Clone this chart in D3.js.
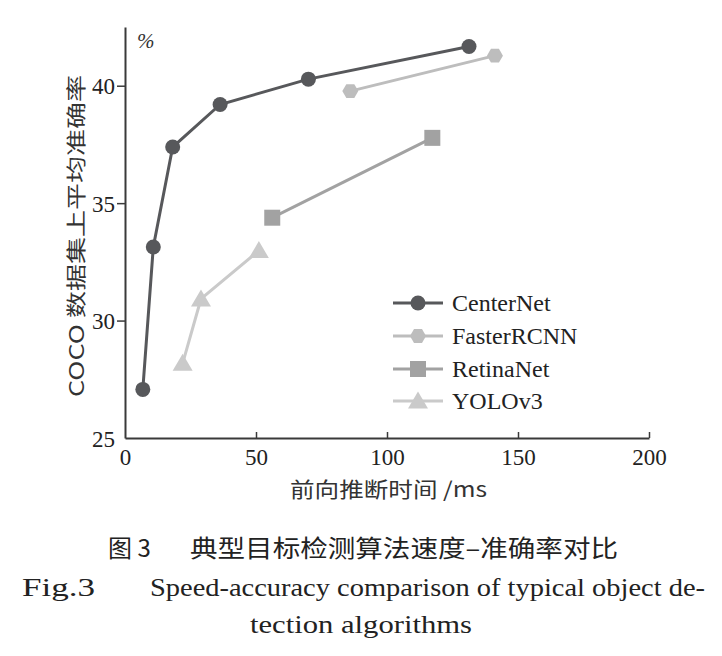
<!DOCTYPE html>
<html><head><meta charset="utf-8">
<script src="https://cdn.jsdelivr.net/npm/d3@7"></script>
<style>body{margin:0;background:#fff}svg{display:block}</style>
</head><body>
<svg id="c" width="722" height="656"></svg>
<script>
const seriesNames = ["CenterNet", "FasterRCNN", "RetinaNet", "YOLOv3"];
const centerNetX = [6.8, 10.8, 18.2, 36.3, 70.0, 131.3];
const centerNetY = [27.07, 33.13, 37.39, 39.2, 40.28, 41.67];
const fasterRcnnX = [86.0, 141.2];
const fasterRcnnY = [39.77, 41.28];
const retinaNetX = [56.2, 117.3];
const retinaNetY = [34.38, 37.78];
const yoloX = [22.0, 29.0, 51.1];
const yoloY = [28.18, 30.92, 32.98];
const xTicks = [0, 50, 100, 150, 200];
const yTicks = [25, 30, 35, 40];

const colors = {CenterNet:"#57585b", FasterRCNN:"#bdbdbd", RetinaNet:"#a2a2a2", YOLOv3:"#cacaca"};
const symbols = {CenterNet:"circle", FasterRCNN:"hexagon", RetinaNet:"square", YOLOv3:"triangle"};
const series = [
  {name:"CenterNet", xs:centerNetX, ys:centerNetY},
  {name:"FasterRCNN", xs:fasterRcnnX, ys:fasterRcnnY},
  {name:"RetinaNet", xs:retinaNetX, ys:retinaNetY},
  {name:"YOLOv3", xs:yoloX, ys:yoloY}
];

const svg = d3.select("#c");
const x = d3.scaleLinear().domain([0,200]).range([125,649]);
const y = d3.scaleLinear().domain([25,42.5]).range([438,27]);
const serif = "Liberation Serif, DejaVu Serif, serif";
const cjk = "Noto Sans CJK SC, Noto Sans, sans-serif";
const axisColor = "#3a3a3a";

function symbolPath(type){
  if(type==="circle") return d3.symbol(d3.symbolCircle, Math.PI*7.5*7.5)();
  if(type==="square") return d3.symbol(d3.symbolSquare, 16*16)();
  if(type==="triangle") return "M0,-9.5L10,7.5L-10,7.5Z";
  const r = 8; const pts=[];
  for(let i=0;i<6;i++){const a=Math.PI/3*i; pts.push([r*Math.cos(a), r*Math.sin(a)]);}
  return "M"+pts.map(p=>p.join(",")).join("L")+"Z";
}

// axes
const gx = svg.append("g").attr("transform","translate(0,438)")
  .call(d3.axisBottom(x).tickValues(xTicks).tickSize(-6).tickSizeOuter(0).tickFormat(d3.format("d")));
gx.select(".domain").attr("stroke",axisColor).attr("stroke-width",2);
gx.selectAll(".tick line").attr("stroke",axisColor).attr("stroke-width",1.5);
gx.selectAll(".tick text").attr("y",11).attr("font-family",serif).attr("font-size",23).attr("fill","#222");
gx.selectAll(".tick").filter(d=>d===0).select("line").remove();

const gy = svg.append("g").attr("transform","translate(125,0)")
  .call(d3.axisLeft(y).tickValues(yTicks).tickSize(8).tickSizeOuter(0).tickFormat(d3.format("d")));
gy.select(".domain").attr("stroke",axisColor).attr("stroke-width",2);
gy.selectAll(".tick line").attr("stroke",axisColor).attr("stroke-width",1.5);
gy.selectAll(".tick text").attr("x",-10).attr("dy","0.36em").attr("font-family",serif).attr("font-size",23).attr("fill","#222");
gy.selectAll(".tick").filter(d=>d===25).select("line").remove();

// % label
svg.append("text").attr("x",137).attr("y",48).attr("font-family",serif).attr("font-style","italic")
  .attr("font-size",21).attr("fill","#333").text("%");

// series
const line = d3.line().x(d=>x(d[0])).y(d=>y(d[1]));
series.forEach(s=>{
  const pts = s.xs.map((v,i)=>[v,s.ys[i]]);
  svg.append("path").attr("d",line(pts)).attr("fill","none")
    .attr("stroke",colors[s.name]).attr("stroke-width",3);
  svg.append("g").selectAll("path").data(pts).join("path")
    .attr("transform",d=>`translate(${x(d[0])},${y(d[1])})`)
    .attr("d",symbolPath(symbols[s.name])).attr("fill",colors[s.name]);
});

// legend
const legY = [303, 336, 369, 401];
seriesNames.forEach((n,i)=>{
  const g = svg.append("g").attr("transform",`translate(0,${legY[i]})`);
  g.append("line").attr("x1",393).attr("x2",443).attr("y1",0).attr("y2",0)
    .attr("stroke",colors[n]).attr("stroke-width",3);
  g.append("path").attr("transform","translate(418,0)").attr("d",symbolPath(symbols[n])).attr("fill",colors[n]);
  g.append("text").attr("x",452).attr("y",8).attr("font-family",serif).attr("font-size",24)
    .attr("fill","#222").text(n);
});

// axis titles
svg.append("text").attr("transform","translate(84,236) rotate(-90)").attr("text-anchor","middle")
  .attr("font-family",cjk).attr("font-size",20).attr("fill","#333")
  .attr("textLength",322).attr("lengthAdjust","spacingAndGlyphs").text("COCO 数据集上平均准确率");
svg.append("text").attr("x",290).attr("y",497)
  .attr("font-family",cjk).attr("font-size",21).attr("fill","#333")
  .attr("textLength",197).attr("lengthAdjust","spacingAndGlyphs").text("前向推断时间 /ms");

// caption
svg.append("text").attr("x",108).attr("y",557).attr("font-family",cjk).attr("font-size",24).attr("fill","#222").text("图 3");
svg.append("text").attr("x",190).attr("y",557).attr("font-family",cjk).attr("font-size",24).attr("fill","#222")
  .attr("textLength",428).attr("lengthAdjust","spacingAndGlyphs").text("典型目标检测算法速度–准确率对比");
svg.append("text").attr("x",22).attr("y",596).attr("font-family",serif).attr("font-size",25).attr("fill","#222")
  .attr("textLength",73).attr("lengthAdjust","spacingAndGlyphs").text("Fig.3");
svg.append("text").attr("x",150).attr("y",596).attr("font-family",serif).attr("font-size",25).attr("fill","#222")
  .attr("textLength",555).attr("lengthAdjust","spacingAndGlyphs").text("Speed-accuracy comparison of typical object de-");
svg.append("text").attr("x",250).attr("y",633).attr("font-family",serif).attr("font-size",25).attr("fill","#222")
  .attr("textLength",222).attr("lengthAdjust","spacingAndGlyphs").text("tection algorithms");
</script>
</body></html>
